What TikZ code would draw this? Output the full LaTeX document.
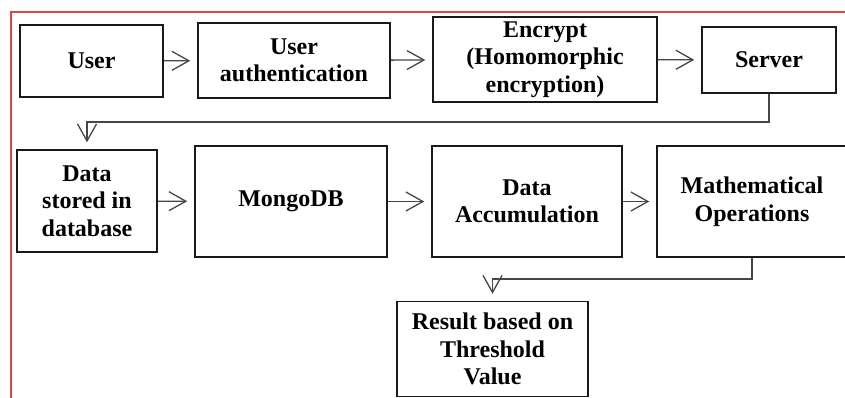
\documentclass[tikz,border=0pt]{standalone}
\usepackage{fontspec}
\setmainfont{Liberation Serif}
\usetikzlibrary{arrows.meta}
\definecolor{frame}{RGB}{220,70,70}
\definecolor{conn}{RGB}{70,70,70}
\tikzset{
  blk/.style={draw=black!90, line width=1.5pt, rectangle, inner sep=0pt, align=center,
    font=\fontsize{24}{27.5}\selectfont\bfseries},
  conarrow/.style={draw=conn, line width=1.3pt, -{Straight Barb[length=17pt,width=19pt,line width=1.3pt]}, shorten >=7pt},
}
\begin{document}
\begin{tikzpicture}[x=1pt,y=-1pt]
\useasboundingbox (0,0) rectangle (845,398);
\clip (0,0) rectangle (845,398);
\fill[white] (0,0) rectangle (845,398);
% red frame
\coordinate (ftl) at (11,12);
\coordinate (ftr) at (846,12);
\coordinate (fbl) at (11,399);
\draw[frame, line width=1.6pt] (ftr) -- (ftl) -- (fbl);
% row 1
\node[blk, minimum width=143pt, minimum height=72pt] (user) at (91.5,61) {User};
\node[blk, minimum width=192pt, minimum height=75pt] (auth) at (294,60.5) {User\\authentication};
\node[blk, minimum width=224pt, minimum height=85pt] (enc) at (545,59.5) {Encrypt\\(Homomorphic\\encryption)};
\node[blk, minimum width=134pt, minimum height=66pt] (server) at (769,60) {Server};
% row 2
\node[blk, minimum width=140pt, minimum height=102pt] (store) at (87,201) {Data\\stored in\\database};
\node[blk, minimum width=192pt, minimum height=111pt] (mongo) at (291,201.5) {MongoDB};
\node[blk, minimum width=190pt, minimum height=111pt] (accum) at (527,201.5) {Data\\Accumulation};
\node[blk, minimum width=190pt, minimum height=111pt] (math) at (752,201.5) {Mathematical\\Operations};
% result
\node[blk, minimum width=191pt, minimum height=95pt] (res) at (492.5,349) {Result based on\\Threshold\\Value};
% connectors
\draw[conarrow] (user) -- (auth);
\draw[conarrow] (auth) -- (enc);
\draw[conarrow] (enc) -- (server);
\coordinate (turn1) at (769,122);
\draw[conarrow] (server.south) -- (turn1) -| (store.north);
\draw[conarrow] (store) -- (mongo);
\draw[conarrow] (mongo) -- (accum);
\draw[conarrow] (accum) -- (math);
\coordinate (turn2) at (752,279);
\draw[conarrow] (math.south) -- (turn2) -| (res.north);
\end{tikzpicture}
\end{document}
